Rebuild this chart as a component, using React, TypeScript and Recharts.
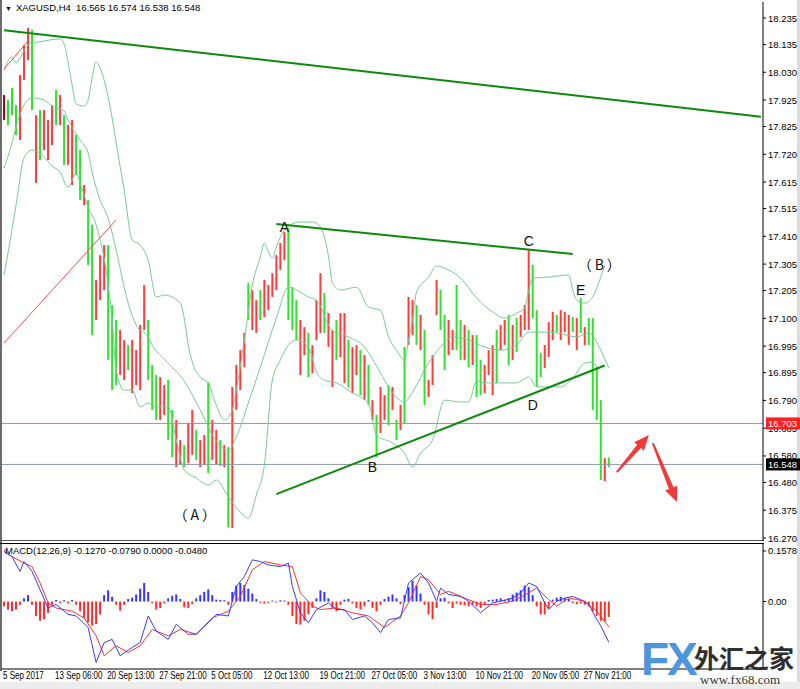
import { Bar, ComposedChart, Line, ReferenceDot, ReferenceLine, XAxis, YAxis } from 'recharts'

// XAGUSD H4, 5 Sep – 29 Nov 2017 (one entry per bar)
const barHigh = [
  17.944, 17.925, 17.97, 17.906, 18.02, 18.133, 18.197, 18.19, 17.868, 17.887,
  17.887, 17.85, 17.906, 17.963, 17.944, 17.868, 17.831, 17.85, 17.793, 17.736,
  17.604, 17.547, 17.453, 17.245, 17.339, 17.377, 17.377, 17.15, 17.094, 17.056,
  17.018, 16.999, 17.018, 16.98, 17.075, 17.226, 17.094, 16.924, 16.886, 16.878,
  16.848, 16.867, 16.754, 16.716, 16.64, 16.621, 16.705, 16.754, 16.678, 16.64,
  16.659, 16.859, 16.716, 16.678, 16.64, 16.621, 16.614, 16.841, 16.924, 16.98,
  17.045, 17.234, 17.207, 17.169, 17.207, 17.245, 17.226, 17.271, 17.339, 17.385,
  17.426, 17.441, 17.218, 17.169, 17.094, 17.067, 17.045, 16.999, 17.169, 17.271,
  17.196, 17.12, 17.056, 17.094, 17.12, 17.12, 17.018, 16.992, 16.999, 16.98,
  16.961, 16.924, 16.791, 16.735, 16.841, 16.81, 16.848, 16.841, 16.716, 16.773,
  16.992, 17.181, 17.169, 17.15, 17.113, 17.056, 16.867, 16.961, 17.245, 17.207,
  17.113, 17.094, 17.056, 17.226, 17.094, 17.075, 17.056, 17.037, 17.037, 16.943,
  16.924, 16.98, 16.999, 17.056, 17.075, 17.094, 17.113, 17.075, 17.101, 17.113,
  17.15, 17.358, 17.302, 17.131, 16.969, 16.999, 17.086, 17.124, 17.113, 17.131,
  17.124, 17.113, 17.105, 17.101, 17.177, 17.067, 17.101, 17.101, 16.916, 16.791,
  16.572, 16.574,
]
const barLow = [
  17.85, 17.831, 17.868, 17.793, 17.774, 18.001, 18.076, 17.887, 17.612, 17.698,
  17.736, 17.698, 17.755, 17.831, 17.831, 17.68, 17.68, 17.604, 17.642, 17.547,
  17.528, 17.302, 17.037, 17.094, 17.169, 17.207, 16.943, 16.829, 16.848, 16.886,
  16.867, 16.905, 16.818, 16.848, 16.829, 17.056, 16.867, 16.754, 16.716, 16.716,
  16.735, 16.64, 16.576, 16.538, 16.546, 16.538, 16.553, 16.584, 16.565, 16.538,
  16.546, 16.515, 16.565, 16.546, 16.542, 16.538, 16.311, 16.308, 16.754, 16.829,
  16.916, 17.094, 17.056, 17.045, 17.094, 17.105, 17.131, 17.181, 17.207, 17.283,
  17.32, 17.094, 17.056, 17.018, 16.886, 16.961, 16.878, 16.893, 17.018, 17.045,
  17.045, 16.992, 16.841, 16.943, 16.954, 16.856, 16.841, 16.818, 16.886, 16.81,
  16.791, 16.773, 16.716, 16.576, 16.667, 16.716, 16.697, 16.754, 16.64, 16.678,
  16.705, 17.0, 17.037, 17.0, 16.98, 16.773, 16.803, 16.848, 17.113, 17.056,
  16.905, 16.961, 16.98, 16.98, 16.943, 16.943, 16.916, 16.924, 16.803, 16.81,
  16.818, 16.886, 16.81, 16.856, 16.98, 17.0, 16.924, 16.943, 16.973, 17.03,
  17.056, 17.056, 17.101, 16.841, 16.878, 16.912, 16.954, 17.018, 17.048, 17.018,
  17.048, 17.0, 17.048, 16.98, 17.045, 16.999, 16.999, 16.754, 16.716, 16.489,
  16.485, 16.538,
]
// r = red bar, g = green bar
const barColors = [
  'rgggrrrgrg', 'rrrgrgrrgg', 'rggrrrgggr', 'rgrrrrgggr', 'rggrrgrrgr',
  'rgrrgrgrrr', 'rgrrgrrrrr', 'rgggrrgrrr', 'grrgrrgrrg', 'rgrgrrgrgr',
  'grrgrgrrrg', 'grrggrgrgg', 'rrrgrrgrgr', 'rrgggrrrgr', 'rrgrgrgggg', 'rg',
].join('')

// Bollinger bands, sampled as [bar, price]
const upperBand: [number, number][] = [
  [0, 18.038], [2, 18.088], [3, 18.065], [4, 18.084], [6, 18.133], [10, 18.148], [14, 18.156],
  [15, 18.137], [16, 18.069], [17, 17.982], [18, 17.91], [20, 17.902], [21, 17.925], [22, 18.01],
  [23, 18.069], [24, 18.046], [26, 17.936], [27, 17.857], [28, 17.763], [30, 17.585], [32, 17.396],
  [34, 17.377], [36, 17.32], [38, 17.181], [40, 17.188], [44, 17.158], [45, 17.101], [46, 16.999],
  [47, 16.935], [49, 16.878], [51, 16.856], [53, 16.772], [55, 16.716], [57, 16.754], [58, 16.829],
  [60, 17.018], [62, 17.226], [64, 17.332], [65, 17.385], [66, 17.351], [67, 17.328], [68, 17.37],
  [70, 17.434], [71, 17.449], [74, 17.464], [77, 17.464], [79, 17.445], [81, 17.336], [82, 17.234],
  [84, 17.207], [88, 17.218], [91, 17.143], [94, 17.131], [96, 17.03], [98, 16.98], [100, 16.943],
  [101, 17.018], [102, 17.094], [103, 17.2], [106, 17.256], [108, 17.298], [111, 17.283],
  [114, 17.252], [118, 17.177], [122, 17.124], [125, 17.101], [128, 17.12], [130, 17.139],
  [131, 17.207], [132, 17.252], [136, 17.256], [141, 17.264], [142, 17.207], [143, 17.169],
  [145, 17.158], [147, 17.181], [148, 17.215], [150, 17.302],
]
const midBand: [number, number][] = [
  [0, 17.668], [2, 17.763], [3, 17.823], [5, 17.906], [7, 17.933], [10, 17.925], [12, 17.902],
  [15, 17.884], [16, 17.85], [19, 17.774], [21, 17.725], [22, 17.653], [24, 17.547], [26, 17.479],
  [28, 17.358], [31, 17.158], [33, 17.075], [36, 17.03], [37, 16.999], [40, 16.946], [45, 16.863],
  [49, 16.754], [53, 16.636], [56, 16.602], [58, 16.652], [61, 16.78], [64, 16.916], [68, 17.101],
  [71, 17.218], [73, 17.207], [76, 17.181], [78, 17.169], [82, 17.052], [86, 17.03], [90, 16.992],
  [94, 16.893], [96, 16.841], [100, 16.784], [102, 16.822], [106, 16.931], [109, 16.992],
  [112, 17.03], [116, 17.018], [120, 16.992], [124, 16.98], [128, 16.999], [131, 17.048],
  [135, 17.048], [138, 17.045], [143, 17.03], [146, 17.045], [149, 16.98], [151, 16.912],
]
const lowerBand: [number, number][] = [
  [0, 17.264], [1, 17.347], [3, 17.528], [5, 17.706], [7, 17.736], [10, 17.71], [12, 17.676],
  [14, 17.653], [16, 17.596], [18, 17.649], [19, 17.611], [21, 17.521], [23, 17.453], [26, 17.226],
  [27, 17.094], [28, 16.905], [30, 16.829], [32, 16.829], [34, 16.765], [36, 16.78], [38, 16.765],
  [41, 16.765], [43, 16.64], [45, 16.527], [48, 16.497], [51, 16.47], [53, 16.489], [56, 16.425],
  [59, 16.368], [61, 16.345], [63, 16.432], [65, 16.545], [67, 16.867], [69, 16.943], [71, 16.999],
  [73, 17.018], [76, 16.992], [78, 16.897], [80, 16.867], [83, 16.856], [87, 16.818], [91, 16.78],
  [93, 16.659], [97, 16.629], [100, 16.591], [102, 16.538], [104, 16.591], [107, 16.64],
  [110, 16.791], [114, 16.784], [116, 16.784], [118, 16.863], [121, 16.856], [128, 16.856],
  [131, 16.878], [133, 16.841], [139, 16.841], [142, 16.874], [145, 16.931], [147, 16.935],
  [148, 16.916],
]

// MACD(12,26,9)
const macdHist = [
  -0.015, -0.025, -0.03, -0.025, -0.01, 0.01, 0.02, -0.01, -0.045, -0.06,
  -0.055, -0.035, -0.01, 0.005, -0.005, 0.004, -0.006, 0.005, -0.01, -0.03,
  -0.05, -0.065, -0.075, -0.07, -0.04, 0.02, 0.035, 0.015, -0.01, -0.028,
  -0.01, 0.008, 0.012, 0.022, 0.04, 0.058, 0.03, -0.005, -0.025, -0.02,
  -0.005, 0.01, 0.018, 0.022, 0.008, -0.018, -0.02, -0.008, 0.01, 0.02,
  0.03, 0.038, 0.02, 0.006, 0.005, 0.004, -0.01, 0.03, 0.05, 0.058,
  0.052, 0.04, 0.025, 0.008, -0.004, -0.006, -0.004, 0.003, -0.003, 0.004,
  0.003, -0.01, -0.045, -0.07, -0.072, -0.06, -0.04, -0.02, 0.01, 0.035,
  0.03, 0.01, -0.02, -0.03, -0.01, 0.006, 0.008, -0.006, -0.02, -0.025,
  -0.015, 0.005, -0.02, -0.03, -0.01, 0.008, 0.015, 0.022, 0.01, -0.008,
  0.02, 0.045, 0.065, 0.05, 0.025, -0.01, -0.04, -0.055, -0.02, 0.01,
  0.012, -0.005, -0.02, -0.006, -0.01, -0.012, -0.015, -0.01, -0.015, -0.02,
  -0.01, 0.005, 0.006, 0.008, 0.01, 0.005, 0.01, 0.022, 0.028, 0.035,
  0.05, 0.045, 0.02, -0.015, -0.04, -0.04, -0.02, 0.006, 0.012, 0.015,
  0.01, 0.008, -0.005, -0.008, -0.006, -0.01, -0.015, -0.03, -0.045, -0.06,
  -0.062, -0.048,
]
const macdMain: [number, number][] = [
  [0, 0.156], [2, 0.14], [4, 0.094], [5, 0.125], [7, 0.094], [9, 0.037], [11, -0.02], [13, -0.009],
  [16, -0.04], [18, -0.045], [21, -0.081], [23, -0.19], [25, -0.128], [27, -0.118], [29, -0.169],
  [32, -0.143], [34, -0.128], [36, -0.045], [38, -0.092], [41, -0.118], [43, -0.071], [46, -0.102],
  [48, -0.102], [51, -0.066], [53, -0.04], [56, -0.045], [58, 0.047], [60, 0.078], [62, 0.13],
  [64, 0.125], [66, 0.114], [69, 0.109], [71, 0.12], [72, 0.047], [74, -0.035], [76, -0.066],
  [78, -0.025], [81, -0.004], [83, -0.025], [85, -0.025], [87, -0.056], [90, -0.045], [92, -0.066],
  [94, -0.097], [96, -0.056], [99, -0.051], [101, 0.058], [104, 0.089], [106, 0.058], [108, 0.001],
  [109, 0.042], [111, 0.022], [114, 0.016], [116, 0.001], [119, -0.035], [122, -0.004], [124, 0.001],
  [127, 0.011], [129, 0.027], [131, 0.058], [133, 0.047], [135, -0.004], [136, -0.025], [138, 0.001],
  [140, 0.011], [142, 0.016], [144, 0.006], [146, -0.009], [148, -0.056], [149, -0.076], [151, -0.127],
]
const macdSignal: [number, number][] = [
  [0, 0.161], [2, 0.14], [5, 0.12], [7, 0.109], [9, 0.058], [11, -0.004], [13, -0.02], [17, -0.03],
  [20, -0.051], [23, -0.107], [25, -0.169], [28, -0.138], [31, -0.159], [34, -0.138], [37, -0.087],
  [41, -0.107], [44, -0.087], [48, -0.102], [52, -0.051], [56, -0.03], [59, 0.016], [62, 0.099],
  [65, 0.125], [69, 0.114], [72, 0.109], [74, 0.027], [77, -0.014], [79, -0.025], [83, -0.02],
  [87, -0.035], [91, -0.045], [95, -0.081], [99, -0.045], [101, -0.004], [104, 0.078], [106, 0.068],
  [109, 0.022], [111, 0.032], [115, 0.011], [119, -0.009], [123, -0.009], [127, 0.001], [131, 0.027],
  [133, 0.042], [136, 0.006], [138, -0.014], [141, 0.011], [145, 0.001], [148, -0.03], [151, -0.079],
]

const priceTicks = [
  18.235, 18.135, 18.03, 17.925, 17.825, 17.72, 17.615, 17.515, 17.41, 17.305,
  17.205, 17.1, 16.995, 16.895, 16.79, 16.685, 16.58, 16.48, 16.375, 16.27,
]
const dateTicks = [0, 13, 26, 39, 52, 65, 79, 92, 105, 118, 132, 145]
const dateLabels = [
  '5 Sep 2017', '13 Sep 06:00', '20 Sep 13:00', '27 Sep 21:00', '5 Oct 05:00', '12 Oct 13:00',
  '19 Oct 21:00', '27 Oct 05:00', '3 Nov 13:00', '10 Nov 21:00', '20 Nov 05:00', '27 Nov 21:00',
]

const SLOTS = 190
const PRICE_DOMAIN = [16.2587, 18.2955]
const FONT = '"Liberation Sans", Arial, sans-serif'
const CJK = '"Noto Sans CJK SC", "Liberation Sans", sans-serif'

const mainRows: any[] = Array.from({ length: SLOTS }, (_, i) => ({
  i,
  range: i < barHigh.length ? [barLow[i], barHigh[i]] : null,
  color: barColors[i],
}))
upperBand.forEach(([i, v]) => (mainRows[i].upper = v))
midBand.forEach(([i, v]) => (mainRows[i].mid = v))
lowerBand.forEach(([i, v]) => (mainRows[i].lower = v))

const macdRows: any[] = Array.from({ length: SLOTS }, (_, i) => ({
  i,
  hist: i < macdHist.length ? macdHist[i] : null,
}))
macdMain.forEach(([i, v]) => (macdRows[i].macd = v))
macdSignal.forEach(([i, v]) => (macdRows[i].signal = v))

const PriceBar = (p: any) => {
  if (!p.payload || !p.payload.range) return <g />
  const top = p.height < 0 ? p.y + p.height : p.y
  const h = Math.max(Math.abs(p.height), 1)
  const fill = p.payload.i === 0 ? '#b00000' : p.payload.color === 'r' ? '#ff3c3c' : '#2ee22e'
  return <rect x={p.x + p.width / 2 - 1} y={top} width={2} height={h} fill={fill} />
}

const HistBar = (p: any) => {
  if (!p.payload || p.payload.hist == null) return <g />
  const top = p.height < 0 ? p.y + p.height : p.y
  const h = Math.max(Math.abs(p.height), 1)
  return <rect x={p.x + p.width / 2 - 1} y={top} width={2} height={h} fill={p.payload.hist >= 0 ? '#3535ff' : '#ff2a2a'} />
}

const Arrow = (p: any) => {
  const { x1, y1, x2, y2 } = p
  const dx = x2 - x1
  const dy = y2 - y1
  const len = Math.hypot(dx, dy) || 1
  const ux = dx / len
  const uy = dy / len
  const nx = -uy
  const ny = ux
  const bx = x2 - ux * 15
  const by = y2 - uy * 15
  const pts = [
    [x1 + nx * 1, y1 + ny * 1],
    [bx + nx * 2.5, by + ny * 2.5],
    [bx + nx * 6.5, by + ny * 6.5],
    [x2, y2],
    [bx - nx * 6.5, by - ny * 6.5],
    [bx - nx * 2.5, by - ny * 2.5],
    [x1 - nx * 1, y1 - ny * 1],
  ]
  return <polygon points={pts.map((q) => q.join(',')).join(' ')} fill="#f23a3a" />
}

const waveLabel = (text: string, font = FONT, spacing = 0) => (p: any) => (
  <text x={p.cx} y={p.cy + 5} textAnchor="middle" fontSize={14} fontFamily={font}
    letterSpacing={spacing} fill="#111">
    {text}
  </text>
)

const priceTag = (text: string, bg: string) => (p: any) => (
  <g>
    <rect x={p.cx + 3} y={p.cy - 6} width={34} height={12} fill={bg} />
    <text x={p.cx + 5} y={p.cy + 3.5} fontSize={9.5} fontFamily={FONT} fill="#fff">{text}</text>
  </g>
)

const PriceTick = (p: any) => (
  <text x={p.x} y={p.y + 3.5} fontSize={9.5} fontFamily={FONT} fill="#000">
    {Number(p.payload.value).toFixed(3)}
  </text>
)

const MacdTick = (p: any) => (
  <text x={p.x} y={p.y + 3.5} fontSize={9.5} fontFamily={FONT} fill="#000">
    {p.payload.value === 0 ? '0.00' : Number(p.payload.value).toFixed(4)}
  </text>
)

// MT4 uses a narrow UI font for the time scale, so squeeze the labels horizontally
const DateTick = (p: any) => {
  const k = dateTicks.indexOf(p.payload.value)
  return (
    <text transform={`translate(${p.x - 1},${p.y + 9.5}) scale(0.76,1)`} x={0} y={0}
      fontSize={10.5} fontFamily={FONT} fill="#000">
      {k >= 0 ? dateLabels[k] : ''}
    </text>
  )
}

const segment = (a: [number, number], b: [number, number]) => [
  { x: a[0], y: a[1] },
  { x: b[0], y: b[1] },
]

export default function App() {
  return (
    <div style={{ position: 'absolute', left: 0, top: 0, width: 800, height: 689, background: '#fff', overflow: 'hidden' }}>
      {/* window frame */}
      <div style={{ position: 'absolute', left: 0, top: 0, width: 2, height: 671, background: '#6b6b6b' }} />
      <div style={{ position: 'absolute', left: 0, top: 540, width: 764, height: 1, background: '#555' }} />
      <div style={{ position: 'absolute', left: 0, top: 543, width: 764, height: 1, background: '#000' }} />
      <div style={{ position: 'absolute', left: 797, top: 0, width: 3, height: 689, background: '#dcdcdc' }} />
      <div style={{ position: 'absolute', left: 0, top: 682, width: 800, height: 7, background: '#ececec' }} />

      <div style={{ position: 'absolute', left: 0, top: 0 }}>
        <ComposedChart width={800} height={546} data={mainRows} margin={{ top: 2, right: 0, bottom: 5, left: 2 }}>
          <XAxis dataKey="i" type="category" hide />
          <YAxis orientation="right" width={37} domain={PRICE_DOMAIN} allowDataOverflow
            ticks={priceTicks} interval={0} tick={PriceTick} tickSize={3} tickMargin={2}
            axisLine={{ stroke: '#000' }} tickLine={{ stroke: '#000' }} />

          <ReferenceLine y={16.703} stroke="#ff6a6a" strokeWidth={1} />
          <ReferenceLine y={16.548} stroke="#8e9cab" strokeWidth={1} />

          <Line dataKey="upper" type="monotone" connectNulls stroke="#78c995" strokeWidth={1} dot={false} activeDot={false} isAnimationActive={false} />
          <Line dataKey="mid" type="monotone" connectNulls stroke="#78c995" strokeWidth={1} dot={false} activeDot={false} isAnimationActive={false} />
          <Line dataKey="lower" type="monotone" connectNulls stroke="#78c995" strokeWidth={1} dot={false} activeDot={false} isAnimationActive={false} />

          <Bar dataKey="range" barSize={2} shape={PriceBar} isAnimationActive={false} />

          <ReferenceLine segment={segment([0, 18.189], [189, 17.862])} stroke="#0c8a0c" strokeWidth={2} />
          <ReferenceLine segment={segment([68, 17.457], [142, 17.343])} stroke="#0c8a0c" strokeWidth={2} />
          <ReferenceLine segment={segment([68, 16.436], [150, 16.922])} stroke="#0c8a0c" strokeWidth={2} />
          <ReferenceLine segment={segment([0, 17.007], [28, 17.472])} stroke="#ff4a4a" strokeWidth={1} />
          <ReferenceLine segment={segment([0, 18.042], [6, 18.148])} stroke="#ff4a4a" strokeWidth={1} />

          <ReferenceLine segment={segment([153, 16.519], [161, 16.659])} shape={Arrow} />
          <ReferenceLine segment={segment([162, 16.629], [168, 16.406])} shape={Arrow} />

          <ReferenceDot x={70} y={17.445} shape={waveLabel('A')} />
          <ReferenceDot x={92} y={16.538} shape={waveLabel('B')} />
          <ReferenceDot x={131} y={17.392} shape={waveLabel('C')} />
          <ReferenceDot x={132} y={16.773} shape={waveLabel('D')} />
          <ReferenceDot x={144} y={17.207} shape={waveLabel('E')} />
          <ReferenceDot x={149} y={17.302} shape={waveLabel('（B）', CJK, 3)} />
          <ReferenceDot x={48} y={16.357} shape={waveLabel('（A）', CJK, 3)} />
        </ComposedChart>
      </div>

      {/* last-price tags drawn on top of the axis labels */}
      <div style={{ position: 'absolute', left: 0, top: 0 }}>
        <ComposedChart width={800} height={546} data={mainRows} margin={{ top: 2, right: 0, bottom: 5, left: 2 }}>
          <XAxis dataKey="i" type="category" hide />
          <YAxis orientation="right" width={37} domain={PRICE_DOMAIN} allowDataOverflow tick={false} axisLine={false} tickLine={false} />
          <ReferenceDot x={189} y={16.703} shape={priceTag('16.703', '#ff1f1f')} />
          <ReferenceDot x={189} y={16.548} shape={priceTag('16.548', '#000')} />
        </ComposedChart>
      </div>

      <div style={{ position: 'absolute', left: 0, top: 544 }}>
        <ComposedChart width={800} height={137} data={macdRows} margin={{ top: 0, right: 0, bottom: 0, left: 2 }}>
          <XAxis dataKey="i" type="category" ticks={dateTicks} interval={0} tick={DateTick}
            tickSize={0} tickMargin={0} height={12} axisLine={{ stroke: '#000' }} tickLine={false} />
          <YAxis orientation="right" width={37} domain={[-0.2104, 0.1795]} allowDataOverflow
            ticks={[0.1578, 0]} interval={0} tick={MacdTick} tickSize={3} tickMargin={2}
            axisLine={{ stroke: '#000' }} tickLine={{ stroke: '#000' }} />
          <Bar dataKey="hist" barSize={2} shape={HistBar} isAnimationActive={false} />
          <Line dataKey="signal" type="linear" connectNulls stroke="#ff3030" strokeWidth={1} dot={false} activeDot={false} isAnimationActive={false} />
          <Line dataKey="macd" type="linear" connectNulls stroke="#3b3bff" strokeWidth={1} dot={false} activeDot={false} isAnimationActive={false} />
        </ComposedChart>
      </div>

      {/* chart captions */}
      <div style={{ position: 'absolute', left: 5, top: 2, fontFamily: FONT, fontSize: 9.5, color: '#000', whiteSpace: 'nowrap' }}>
        <span style={{ fontSize: 7, marginRight: 4 }}>▼</span>XAGUSD,H4&nbsp; 16.565 16.574 16.538 16.548
      </div>
      <div style={{ position: 'absolute', left: 5, top: 545, fontFamily: FONT, fontSize: 9.5, color: '#000', whiteSpace: 'nowrap' }}>
        MACD(12,26,9) -0.1270 -0.0790 0.0000 -0.0480
      </div>

      {/* watermark */}
      <div style={{ position: 'absolute', left: 641, top: 634, fontFamily: FONT, fontWeight: 700, fontSize: 46, color: '#4d95dc', letterSpacing: -2, lineHeight: '50px' }}>
        FX
      </div>
      <div style={{ position: 'absolute', left: 694, top: 643, fontFamily: '"Noto Sans CJK SC", sans-serif', fontWeight: 700, fontSize: 25, color: '#2f2f2f', lineHeight: '28px', whiteSpace: 'nowrap' }}>
        外汇之家
      </div>
      <div style={{ position: 'absolute', left: 700, top: 672, fontFamily: '"Liberation Serif", serif', fontSize: 13, color: '#333', lineHeight: '15px' }}>
        www.fx68.com
      </div>
    </div>
  )
}
